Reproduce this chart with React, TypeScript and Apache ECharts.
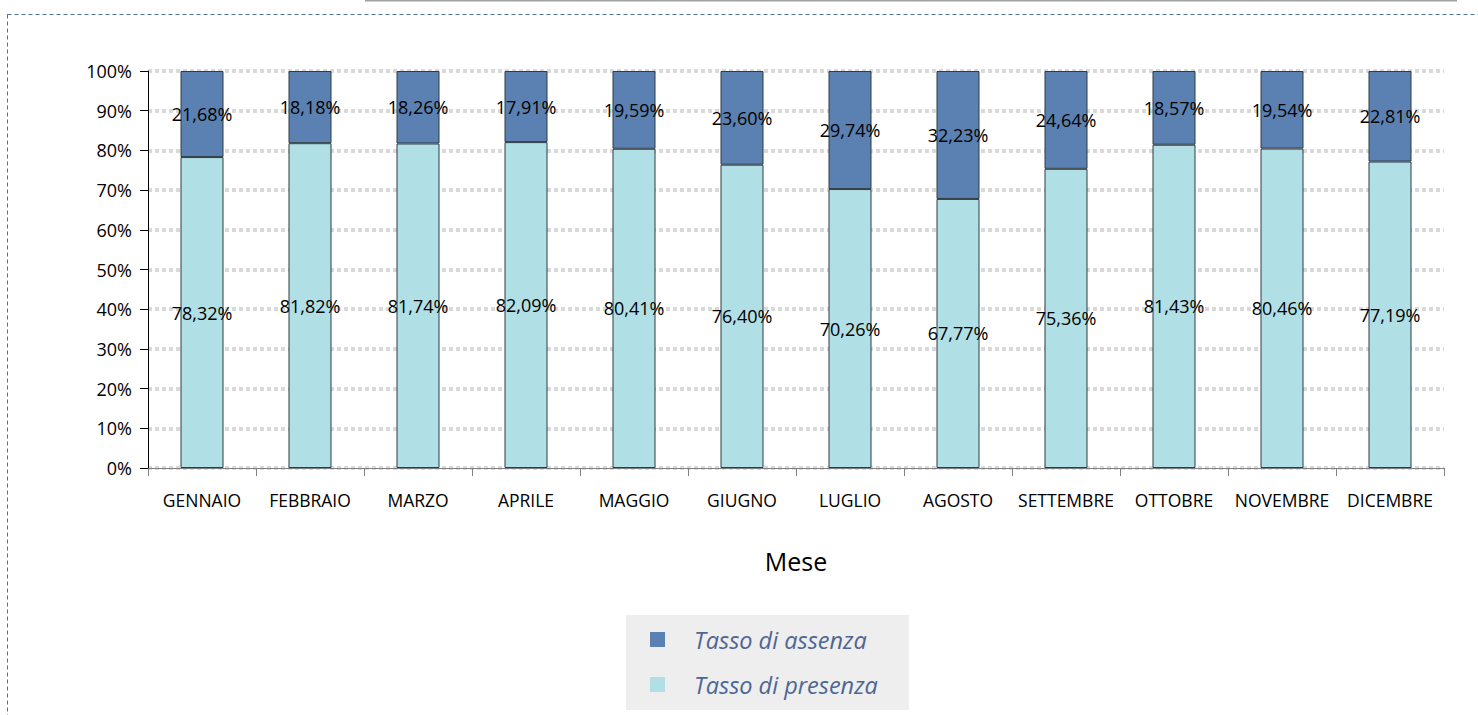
import React, { useEffect, useRef } from "react";
import * as echarts from "echarts";

const months = ["GENNAIO", "FEBBRAIO", "MARZO", "APRILE", "MAGGIO", "GIUGNO", "LUGLIO", "AGOSTO", "SETTEMBRE", "OTTOBRE", "NOVEMBRE", "DICEMBRE"];
const presenza = [78.32, 81.82, 81.74, 82.09, 80.41, 76.4, 70.26, 67.77, 75.36, 81.43, 80.46, 77.19];
const assenza = [21.68, 18.18, 18.26, 17.91, 19.59, 23.6, 29.74, 32.23, 24.64, 18.57, 19.54, 22.81];
const yTicks = [0, 10, 20, 30, 40, 50, 60, 70, 80, 90, 100];

const fmt = (v: number) => v.toFixed(2).replace(".", ",") + "%";
const FONT = "'Open Sans', 'Noto Sans', sans-serif";

export default function App() {
  const ref = useRef<HTMLDivElement>(null);
  useEffect(() => {
    if (!ref.current) return;
    const chart = echarts.init(ref.current, undefined, { renderer: "svg" });
    chart.setOption({
      animation: false,
      backgroundColor: "#ffffff",
      grid: { left: 148, right: 34, top: 71, bottom: 247, containLabel: false },
      graphic: [
        {
          type: "rect",
          shape: { x: 7.5, y: 14.5, width: 1480, height: 720 },
          style: { fill: "none", stroke: "#4F6E99", lineWidth: 1, lineDash: [4, 3] },
          silent: true,
        },
        {
          type: "line",
          shape: { x1: 365, y1: 0, x2: 1457, y2: 0 },
          style: { stroke: "#A0A0A0", lineWidth: 3 },
          silent: true,
        },
      ],
      legend: {
        orient: "vertical",
        left: 626,
        top: 615,
        data: ["Tasso di assenza", "Tasso di presenza"],
        backgroundColor: "#EEEEEE",
        padding: [13, 31, 14, 24],
        itemWidth: 15,
        itemHeight: 15,
        itemGap: 22,
        icon: "rect",
        selectedMode: false,
        itemStyle: { borderWidth: 0 },
        textStyle: {
          fontFamily: FONT,
          fontStyle: "italic",
          fontSize: 23.5,
          color: "#4F6592",
          padding: [0, 0, 0, 24],
        },
      },
      xAxis: {
        type: "category",
        data: months,
        name: "Mese",
        nameLocation: "middle",
        nameGap: 80,
        nameTextStyle: { fontFamily: FONT, fontSize: 25, color: "#000" },
        axisLine: { lineStyle: { color: "#808080", width: 1 } },
        axisTick: { show: true, alignWithLabel: false, length: 8, lineStyle: { color: "#808080" } },
        axisLabel: { fontFamily: FONT, fontSize: 17.5, color: "#000", margin: 23, interval: 0 },
      },
      yAxis: {
        type: "value",
        min: 0,
        max: 100,
        interval: 10,
        axisLine: { show: true, lineStyle: { color: "#000", width: 1 } },
        axisTick: { show: true, length: 8, lineStyle: { color: "#000" } },
        axisLabel: {
          fontFamily: FONT,
          fontSize: 18,
          color: "#000",
          margin: 16,
          formatter: (v: number) => (yTicks.includes(v) ? v + "%" : ""),
        },
        splitLine: {
          show: true,
          lineStyle: { color: "#D9D9D9", width: 4, type: [4, 3] },
        },
      },
      series: [
        {
          name: "Tasso di presenza",
          type: "bar",
          stack: "tot",
          data: presenza,
          barWidth: 43,
          itemStyle: { color: "#B0DFE5", borderColor: "#2F3A40", borderWidth: 1 },
          label: {
            show: true,
            position: "inside",
            fontFamily: FONT,
            fontSize: 18,
            color: "#000",
            formatter: (p: any) => fmt(p.value),
          },
        },
        {
          name: "Tasso di assenza",
          type: "bar",
          stack: "tot",
          data: assenza,
          barWidth: 43,
          itemStyle: { color: "#5B80B2", borderColor: "#2F3A40", borderWidth: 1 },
          label: {
            show: true,
            position: "inside",
            fontFamily: FONT,
            fontSize: 18,
            color: "#000",
            formatter: (p: any) => fmt(p.value),
          },
        },
      ],
    });
    return () => chart.dispose();
  }, []);
  return (
    <div
      ref={ref}
      style={{ position: "fixed", left: 0, top: 0, width: 1478, height: 715 }}
    />
  );
}
